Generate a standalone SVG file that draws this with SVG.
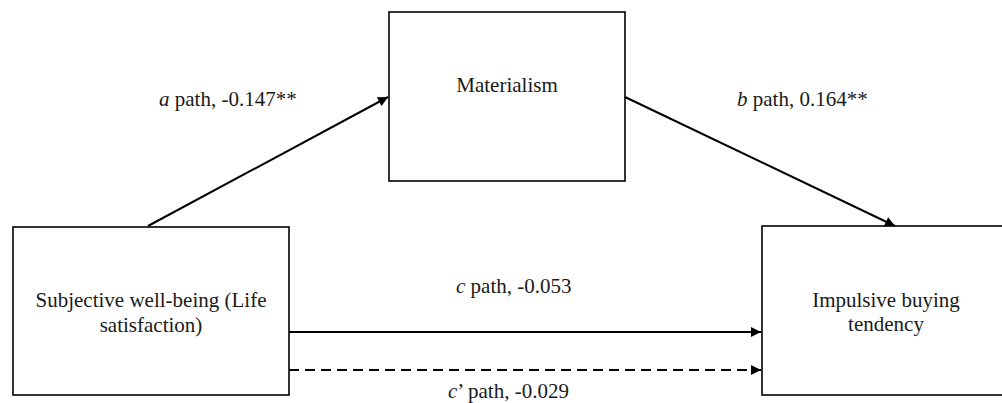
<svg xmlns="http://www.w3.org/2000/svg" width="1002" height="403" viewBox="0 0 1002 403">
<style>
.box{fill:#fff;stroke:#000;stroke-width:1.6}
.t{font-family:"Liberation Serif","Times New Roman",serif;font-size:21px;fill:#1a1a1a}
.c{text-anchor:middle}
.ln{stroke:#000;stroke-width:2;fill:none}
.dash{stroke-dasharray:10,6}
</style>
<defs>
<marker id="ah" viewBox="0 0 10 10" refX="10" refY="5" markerWidth="6" markerHeight="5" markerUnits="strokeWidth" orient="auto">
<path d="M0,0 L10,5 L0,10 z" fill="#000"/>
</marker>
</defs>
<rect width="1002" height="403" fill="#fff"/>
<g id="node-swb">
<rect class="box" x="13" y="227" width="276" height="168"/>
<text class="t c" x="151" y="307">Subjective well-being (Life</text>
<text class="t c" x="151" y="332">satisfaction)</text>
</g>
<g id="node-materialism">
<rect class="box" x="389" y="12" width="236" height="169"/>
<text class="t c" x="507" y="92">Materialism</text>
</g>
<g id="node-impulsive">
<rect class="box" x="762" y="226" width="248" height="169"/>
<text class="t c" x="886" y="307">Impulsive buying</text>
<text class="t c" x="886" y="331">tendency</text>
</g>
<g id="connectors">
<line class="ln" x1="148" y1="226" x2="388" y2="97" marker-end="url(#ah)"/>
<line class="ln" x1="625" y1="97" x2="895" y2="226" marker-end="url(#ah)"/>
<line class="ln" x1="289" y1="332" x2="761" y2="332" marker-end="url(#ah)"/>
<line class="ln dash" x1="289" y1="370" x2="761" y2="370" marker-end="url(#ah)"/>
</g>
<g id="labels">
<text class="t" x="159" y="106"><tspan font-style="italic">a</tspan> path, -0.147**</text>
<text class="t" x="737" y="106"><tspan font-style="italic">b</tspan> path, 0.164**</text>
<text class="t" x="456" y="293"><tspan font-style="italic">c</tspan> path, -0.053</text>
<text class="t" x="448" y="398"><tspan font-style="italic">c</tspan>’ path, -0.029</text>
</g>
</svg>
